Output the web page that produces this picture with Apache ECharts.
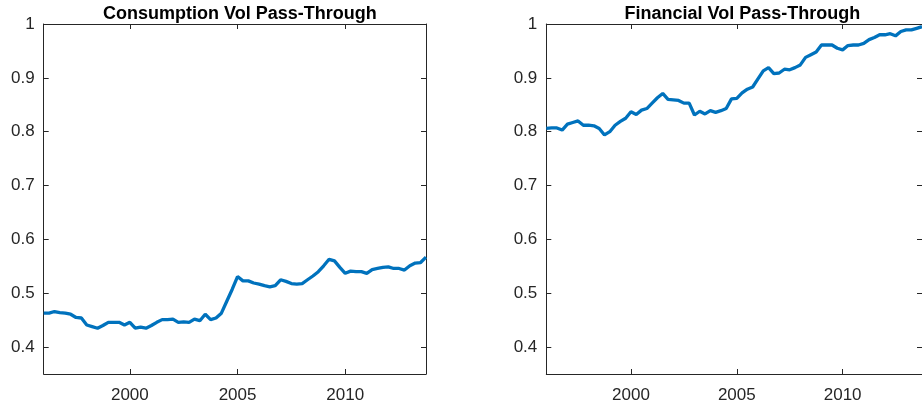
<!DOCTYPE html>
<html>
<head>
<meta charset="utf-8">
<script src="https://cdn.jsdelivr.net/npm/echarts@6/dist/echarts.min.js"></script>
<style>html,body{margin:0;padding:0;background:#fff}#c{width:922px;height:409px}</style>
</head>
<body>
<div id="c"></div>
<script>
var quarters = [1996,1996.25,1996.5,1996.75,1997,1997.25,1997.5,1997.75,1998,1998.25,1998.5,1998.75,
1999,1999.25,1999.5,1999.75,2000,2000.25,2000.5,2000.75,2001,2001.25,2001.5,2001.75,
2002,2002.25,2002.5,2002.75,2003,2003.25,2003.5,2003.75,2004,2004.25,2004.5,2004.75,
2005,2005.25,2005.5,2005.75,2006,2006.25,2006.5,2006.75,2007,2007.25,2007.5,2007.75,
2008,2008.25,2008.5,2008.75,2009,2009.25,2009.5,2009.75,2010,2010.25,2010.5,2010.75,
2011,2011.25,2011.5,2011.75,2012,2012.25,2012.5,2012.75,2013,2013.25,2013.5,2013.75];
var consumption = [0.463,0.463,0.466,0.464, 0.463,0.461,0.455,0.454, 0.441,0.438,0.435,0.440,
0.446,0.446,0.446,0.441, 0.446,0.435,0.437,0.435, 0.440,0.446,0.451,0.451,
0.452,0.446,0.447,0.446, 0.452,0.449,0.461,0.451, 0.454,0.463,0.485,0.507,
0.531,0.523,0.523,0.519, 0.517,0.514,0.512,0.514, 0.525,0.522,0.518,0.517,
0.518,0.525,0.532,0.540, 0.551,0.563,0.560,0.548, 0.537,0.541,0.540,0.540,
0.537,0.544,0.546,0.548, 0.549,0.546,0.546,0.543, 0.551,0.556,0.557,0.567];
var financial = [0.806,0.807,0.807,0.803, 0.814,0.817,0.820,0.812, 0.812,0.811,0.806,0.794,
0.800,0.812,0.819,0.825, 0.837,0.832,0.840,0.843, 0.853,0.863,0.871,0.860,
0.859,0.858,0.853,0.853, 0.831,0.838,0.833,0.839, 0.836,0.839,0.843,0.861,
0.862,0.872,0.879,0.883, 0.898,0.913,0.919,0.908, 0.909,0.916,0.915,0.919,
0.924,0.938,0.943,0.948, 0.961,0.961,0.961,0.955, 0.952,0.960,0.961,0.961,
0.964,0.971,0.975,0.980, 0.980,0.982,0.978,0.986, 0.989,0.989,0.992,0.995];
var xTicks = [2000, 2005, 2010];
var yTicks = [0.4, 0.5, 0.6, 0.7, 0.8, 0.9, 1];
var titles = ['Consumption Vol Pass-Through', 'Financial Vol Pass-Through'];

var FONT = 'Liberation Sans, Arial, Helvetica, sans-serif';
var AX = '#262626';
var grids = [
  {left: 43.7, right: 496, top: 24, bottom: 35},
  {left: 546.3, right: -6.5, top: 24, bottom: 35}
];
var centers = [234.9, 737.4];

function zip(xs, ys) { return xs.map(function (x, i) { return [x, ys[i]]; }); }

var xAxes = [], yAxes = [], series = [], titleOpts = [];
for (var g = 0; g < 2; g++) {
  ['bottom', 'top'].forEach(function (pos) {
    xAxes.push({
      type: 'value', gridIndex: g, position: pos, min: 1996, max: 2013.75,
      axisLine: {show: true, onZero: false, lineStyle: {color: AX, width: 1}},
      axisTick: {show: true, inside: true, length: 5, customValues: xTicks, lineStyle: {color: AX}},
      axisLabel: {show: pos === 'bottom', customValues: xTicks, color: AX, fontSize: 17, fontFamily: FONT, margin: 13,
        formatter: function (v) { return String(v); }},
      splitLine: {show: false}
    });
  });
  ['left', 'right'].forEach(function (pos) {
    yAxes.push({
      type: 'value', gridIndex: g, position: pos, min: 0.35, max: 1,
      axisLine: {show: true, onZero: false, lineStyle: {color: AX, width: 1}},
      axisTick: {show: true, inside: true, length: 5, customValues: yTicks, lineStyle: {color: AX}},
      axisLabel: {show: pos === 'left', customValues: yTicks, color: AX, fontSize: 17, fontFamily: FONT, margin: 9,
        formatter: function (v) { return String(v); }},
      splitLine: {show: false}
    });
  });
  titleOpts.push({
    text: titles[g], left: centers[g], top: 0, textAlign: 'center',
    textStyle: {fontSize: 18, fontWeight: 'bold', color: '#000', fontFamily: FONT}
  });
}
series.push({type: 'line', xAxisIndex: 0, yAxisIndex: 0, data: zip(quarters, consumption),
  showSymbol: false, lineStyle: {color: '#0072BD', width: 3.3}, clip: true, animation: false});
series.push({type: 'line', xAxisIndex: 2, yAxisIndex: 2, data: zip(quarters, financial),
  showSymbol: false, lineStyle: {color: '#0072BD', width: 3.3}, clip: true, animation: false});

var chart = echarts.init(document.getElementById('c'), null, {renderer: 'canvas'});
chart.setOption({
  animation: false,
  title: titleOpts,
  grid: grids,
  xAxis: xAxes,
  yAxis: yAxes,
  series: series
});
</script>
</body>
</html>
